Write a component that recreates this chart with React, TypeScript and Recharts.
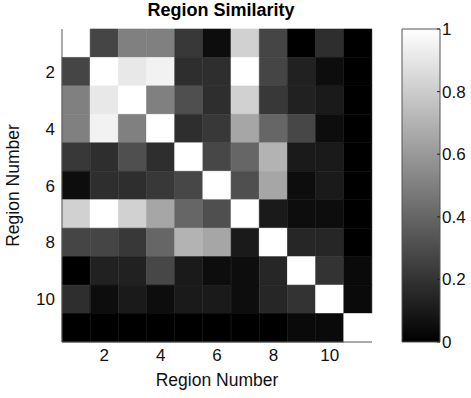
import { Bar, BarChart, Cell, XAxis, YAxis } from "recharts";

const regions = [1, 2, 3, 4, 5, 6, 7, 8, 9, 10, 11];

// similarity[row][col]
const row1 = [1, 0.27, 0.5, 0.5, 0.22, 0.05, 0.82, 0.27, 0, 0.18, 0];
const row2 = [0.27, 1, 0.91, 0.95, 0.18, 0.18, 1, 0.27, 0.13, 0.05, 0];
const row3 = [0.5, 0.91, 1, 0.5, 0.31, 0.18, 0.82, 0.22, 0.13, 0.1, 0];
const row4 = [0.5, 0.95, 0.5, 1, 0.18, 0.22, 0.65, 0.4, 0.28, 0.05, 0];
const row5 = [0.22, 0.18, 0.31, 0.18, 1, 0.28, 0.4, 0.7, 0.1, 0.1, 0];
const row6 = [0.05, 0.18, 0.18, 0.22, 0.28, 1, 0.31, 0.65, 0.05, 0.1, 0];
const row7 = [0.82, 1, 0.82, 0.65, 0.4, 0.31, 1, 0.1, 0.05, 0.05, 0];
const row8 = [0.27, 0.27, 0.22, 0.4, 0.7, 0.65, 0.1, 1, 0.15, 0.15, 0];
const row9 = [0, 0.13, 0.13, 0.28, 0.1, 0.05, 0.05, 0.15, 1, 0.2, 0.04];
const row10 = [0.18, 0.05, 0.1, 0.05, 0.1, 0.1, 0.05, 0.15, 0.2, 1, 0.04];
const row11 = [0, 0, 0, 0, 0, 0, 0, 0, 0.04, 0.04, 1];
const similarity = [row1, row2, row3, row4, row5, row6, row7, row8, row9, row10, row11];

const rowTicks = [1.5, 3.5, 5.5, 7.5, 9.5];
const colorbarTicks = [0, 0.2, 0.4, 0.6, 0.8, 1];

const gray = (v: number) => {
  const g = Math.round(v * 255);
  return `rgb(${g},${g},${g})`;
};

// one entry per column, each row is a unit-height stacked segment
const data = regions.map((col) => {
  const d: Record<string, number> = { col };
  regions.forEach((r) => (d[`r${r}`] = 1));
  return d;
});

const font = '"Liberation Sans", Arial, sans-serif';
const tickStyle = { fill: "#111", fontSize: 17, fontFamily: font };
const border = "#555";

export default function App() {
  return (
    <div style={{ position: "absolute", left: 0, top: 0, width: 471, height: 398, background: "#fff", fontFamily: font }}>
      <svg width={471} height={30} style={{ position: "absolute", left: 0, top: 0 }}>
        <text x={221} y={16} textAnchor="middle" fontSize={18} fontWeight="bold" fontFamily={font} fill="#000">
          Region Similarity
        </text>
      </svg>
      <div style={{ position: "absolute", left: 0, top: 0 }}>
        <BarChart width={471} height={398} data={data} margin={{ top: 29, right: 99, bottom: 0, left: 0 }} barCategoryGap={0}>
          <XAxis
            dataKey="col"
            interval={0}
            height={56}
            tickLine={false}
            tickSize={5}
            tickMargin={2}
            tick={tickStyle}
            axisLine={{ stroke: border }}
            tickFormatter={(v: number) => (v % 2 === 0 ? String(v) : "")}
            label={{ value: "Region Number", position: "insideBottom", offset: 12, fill: "#111", fontSize: 17.5, fontFamily: font }}
          />
          <XAxis xAxisId="top" dataKey="col" orientation="top" height={0} tick={false} tickLine={false} axisLine={{ stroke: border }} />
          <YAxis
            type="number"
            domain={[0, 11]}
            reversed
            ticks={rowTicks}
            width={62}
            tickLine={false}
            tickSize={5}
            tickMargin={2}
            tick={tickStyle}
            axisLine={{ stroke: border }}
            tickFormatter={(v: number) => String(v + 0.5)}
            label={{ value: "Region Number", angle: -90, position: "insideLeft", offset: 13, fill: "#111", fontSize: 17.5, fontFamily: font, style: { textAnchor: "middle" } }}
          />
          <YAxis yAxisId="right" orientation="right" type="number" domain={[0, 11]} width={0} tick={false} tickLine={false} axisLine={{ stroke: border }} />
          {regions.map((r, i) => (
            <Bar key={r} dataKey={`r${r}`} stackId="s" isAnimationActive={false}>
              {regions.map((c, j) => (
                <Cell key={c} fill={gray(similarity[i][j])} stroke={gray(similarity[i][j])} strokeWidth={0.6} />
              ))}
            </Bar>
          ))}
        </BarChart>
      </div>
      <div style={{ position: "absolute", left: 392, top: 0 }}>
        <BarChart width={79} height={398} data={[{ name: "c", v: 1 }]} margin={{ top: 29, right: 0, bottom: 56, left: 10 }} barCategoryGap={0}>
          <defs>
            <linearGradient id="cbGrad" x1="0" y1="0" x2="0" y2="1">
              <stop offset="0%" stopColor="#fff" />
              <stop offset="100%" stopColor="#000" />
            </linearGradient>
          </defs>
          <XAxis dataKey="name" hide />
          <YAxis yAxisId="cl" orientation="left" type="number" domain={[0, 1]} ticks={colorbarTicks} width={0} tick={false} axisLine={false} tickSize={-3} tickLine={{ stroke: "#222" }} />
          <YAxis
            orientation="right"
            type="number"
            domain={[0, 1]}
            ticks={colorbarTicks}
            width={31}
            tickLine={{ stroke: "#222" }}
            axisLine={false}
            tickSize={-3}
            tickMargin={5}
            tick={{ ...tickStyle, textAnchor: "start" }}
            tickFormatter={(v: number) => (v === 0 || v === 1 ? String(v) : v.toFixed(1))}
          />
          <Bar dataKey="v" fill="url(#cbGrad)" stroke={border} strokeWidth={1} isAnimationActive={false} />
        </BarChart>
      </div>
    </div>
  );
}
